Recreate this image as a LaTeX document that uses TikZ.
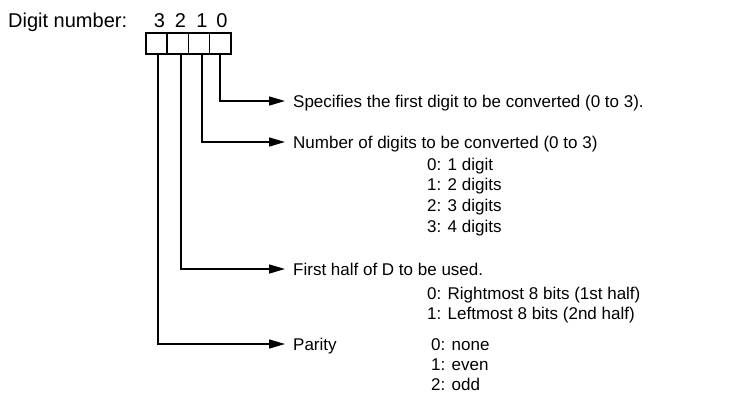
\documentclass[tikz,border=0pt]{standalone}
\usepackage{fontspec}
\setmainfont{Liberation Sans}
\usetikzlibrary{arrows.meta}
\begin{document}
\begin{tikzpicture}[x=1pt,y=-1pt,
  txt/.style={anchor=base west,inner sep=0pt,font=\fontsize{17}{20}\selectfont},
  hdrtxt/.style={anchor=base west,inner sep=0pt,font=\fontsize{20}{24}\selectfont},
  dig/.style={anchor=base,inner sep=0pt,font=\fontsize{20}{24}\selectfont},
  cell/.style={draw,line width=1.5pt,minimum width=21.3pt,minimum height=21pt,inner sep=0pt,anchor=north west},
  conn/.style={line width=1.5pt,-{Triangle[length=16pt,width=9pt]}}]
\useasboundingbox (0,0) rectangle (731,397);
% header
\node[hdrtxt] (hdr) at (8,27) {Digit number:};
\node[dig] (d3) at (159.5,27) {3};
\node[dig] (d2) at (180.5,27) {2};
\node[dig] (d1) at (202,27) {1};
\node[dig] (d0) at (222,27) {0};
% boxes
\node[cell] (b3) at (145,32) {};
\node[cell] (b2) at (166.3,32) {};
\node[cell] (b1) at (187.6,32) {};
\node[cell] (b0) at (208.9,32) {};
% line start points and arrow tips
\coordinate (s3) at (158,53);
\coordinate (s2) at (181,53);
\coordinate (s1) at (202,53);
\coordinate (s0) at (220,53);
\coordinate (e0) at (285,101);
\coordinate (e1) at (285,142);
\coordinate (e2) at (285,269);
\coordinate (e3) at (285,344);
\draw[conn] (s0) |- (e0);
\draw[conn] (s1) |- (e1);
\draw[conn] (s2) |- (e2);
\draw[conn] (s3) |- (e3);
% texts
\node[txt] (t0) at (293,107) {Specifies the first digit to be converted (0 to 3).};
\node[txt] (t1) at (293,148) {Number of digits to be converted (0 to 3)};
\node[txt] (t1a) at (427,170) {0: 1 digit};
\node[txt] (t1b) at (427,190.5) {1: 2 digits};
\node[txt] (t1c) at (427,211) {2: 3 digits};
\node[txt] (t1d) at (427,232) {3: 4 digits};
\node[txt] (t2) at (293,275) {First half of D to be used.};
\node[txt] (t2a) at (427,299) {0: Rightmost 8 bits (1st half)};
\node[txt] (t2b) at (427,319) {1: Leftmost 8 bits (2nd half)};
\node[txt] (t3) at (293,350) {Parity};
\node[txt] (t3a) at (431,350) {0: none};
\node[txt] (t3b) at (431,370) {1: even};
\node[txt] (t3c) at (431,390) {2: odd};
\end{tikzpicture}
\end{document}
